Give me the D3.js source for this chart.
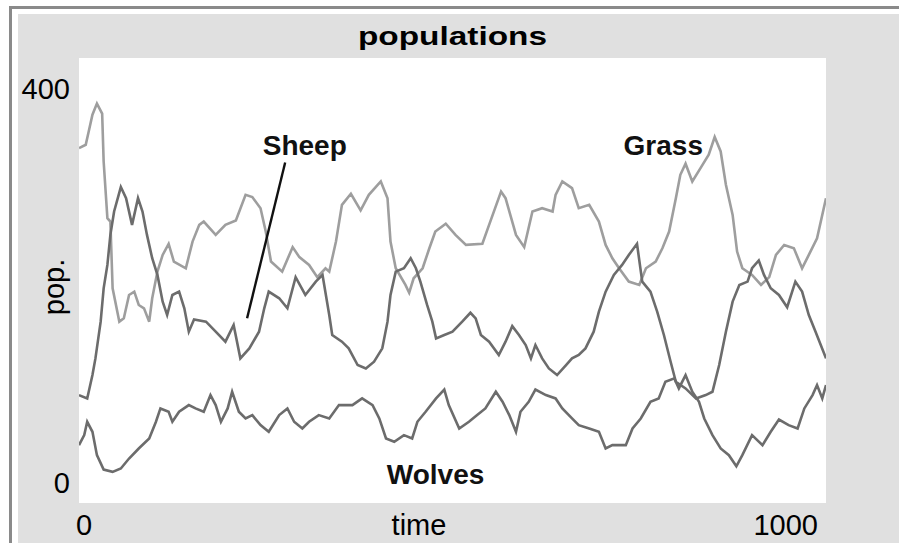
<!DOCTYPE html>
<html>
<head>
<meta charset="utf-8">
<script src="https://cdn.jsdelivr.net/npm/d3@7"></script>
<style>
  html, body { margin: 0; background: #fff; overflow: hidden; }
  svg { display: block; }
  text { font-family: "Liberation Sans", Arial, sans-serif; }
</style>
</head>
<body>
<div class="chart"></div>
<script>
// values (time, pop.)
var grassT = [0,9,13,18,24,31,33,38,42,45,54,60,67,74,80,87,94,98,105,112,120,127,143,152,161,167,183,196,210,223,232,243,250,257,272,286,295,308,319,330,335,344,352,364,377,388,404,413,417,424,437,442,448,460,469,477,491,504,518,540,549,565,571,585,596,607,620,634,638,647,660,669,683,696,705,714,723,736,750,759,772,781,790,799,805,812,821,832,843,851,859,866,875,881,888,901,913,924,933,944,957,968,977,988,1000];
var grassV = [319,322,334,349,359,350,307,256,253,193,163,166,187,190,178,175,163,184,208,223,233,217,211,235,250,253,241,250,254,277,275,265,244,217,208,230,221,214,203,211,208,235,268,278,263,277,289,274,235,211,196,189,202,211,229,244,251,241,232,233,250,280,274,241,230,262,265,262,277,289,283,265,268,253,232,220,211,199,196,211,217,229,244,274,295,305,289,301,313,329,316,286,259,226,211,205,196,203,223,232,229,211,223,238,274];

var sheepT = [0,11,18,22,29,33,38,42,47,56,63,71,79,85,91,98,105,112,118,125,134,141,147,154,170,183,196,207,216,228,241,248,254,268,279,290,303,317,326,335,339,352,361,373,384,395,406,413,417,424,435,444,451,457,466,473,478,489,500,513,524,531,538,549,562,571,580,589,598,605,611,620,629,640,652,660,669,678,689,696,705,716,727,736,747,754,765,774,783,792,799,812,826,839,848,857,866,875,884,895,901,910,917,926,937,948,959,968,977,986,1000];
var sheepV = [97,94,115,130,163,193,214,241,262,284,274,250,274,262,241,220,205,181,169,187,190,175,154,165,163,154,145,160,130,139,154,175,190,184,175,203,187,199,205,169,151,145,139,124,121,127,139,163,187,208,211,220,211,199,178,163,148,151,154,163,171,166,151,145,133,145,159,151,142,130,142,130,121,115,124,130,133,139,154,172,190,205,214,223,233,199,190,172,151,127,109,103,94,97,100,124,154,181,196,199,211,218,205,193,187,176,199,190,169,154,130];

var wolvesT = [0,7,11,18,24,33,45,56,67,80,94,103,109,120,125,134,147,156,167,176,183,190,199,205,214,223,232,243,254,268,279,288,299,308,321,335,348,366,379,393,402,411,422,435,446,453,464,478,489,495,509,522,533,544,558,567,576,585,591,602,611,625,638,647,660,669,683,696,705,714,732,741,752,765,776,785,797,803,812,821,830,837,848,859,870,880,888,901,915,926,937,950,962,971,982,988,995,1000];
var wolvesV = [52,61,73,64,43,30,28,31,40,49,58,73,85,82,73,82,88,85,82,97,88,73,85,100,82,76,79,70,64,79,85,73,67,73,79,76,88,88,94,88,76,58,55,61,58,73,82,94,102,88,67,73,79,85,100,91,79,64,82,91,102,97,94,85,76,70,67,64,49,52,52,67,76,91,94,109,112,103,115,100,91,76,61,49,43,33,43,61,52,64,75,70,67,85,97,106,94,106];

var seriesNames = ["Grass", "Sheep", "Wolves"];
var xTicks = ["0", "1000"];
var yTicks = ["0", "400"];

var svgWidth = 899;
var svgHeight = 543;

var plot = { left: 79, right: 826, top: 58, bottom: 503 };

var grassColor = "rgb(158,158,158)";
var animalColor = "rgb(108,108,108)";
var frameColor = "rgb(138,138,138)";
var panelColor = "rgb(224,224,224)";

var $svg = d3.select(".chart")
    .append("svg")
    .attr("width", svgWidth)
    .attr("height", svgHeight);

// outer frame and grey panel
$svg.append("rect")
    .attr("x", 0).attr("y", 0)
    .attr("width", svgWidth).attr("height", svgHeight)
    .attr("fill", "#fff");
$svg.append("rect")
    .attr("x", 18).attr("y", 14)
    .attr("width", svgWidth - 18).attr("height", svgHeight - 14)
    .attr("fill", panelColor);
$svg.append("line")
    .attr("x1", 9).attr("x2", svgWidth)
    .attr("y1", 7.5).attr("y2", 7.5)
    .attr("stroke", frameColor).attr("stroke-width", 3);
$svg.append("line")
    .attr("x1", 10.5).attr("x2", 10.5)
    .attr("y1", 6).attr("y2", svgHeight)
    .attr("stroke", frameColor).attr("stroke-width", 3);

$svg.append("rect")
    .attr("x", plot.left).attr("y", plot.top)
    .attr("width", plot.right - plot.left)
    .attr("height", plot.bottom - plot.top)
    .attr("fill", "#fff");

var xScale = d3.scaleLinear()
    .domain([+xTicks[0], +xTicks[1]])
    .range([plot.left, plot.right]);

var yScale = d3.scaleLinear()
    .domain([+yTicks[0], +yTicks[1]])
    .range([plot.bottom, plot.top]);

$svg.append("clipPath")
    .attr("id", "plotClip")
    .append("rect")
    .attr("x", plot.left).attr("y", plot.top)
    .attr("width", plot.right - plot.left)
    .attr("height", plot.bottom - plot.top);

var line = d3.line()
    .x(d => xScale(d[0]))
    .y(d => yScale(d[1]));

var series = [
    { name: seriesNames[0], data: grassT.map((t, i) => [t, grassV[i]]), color: grassColor },
    { name: seriesNames[1], data: sheepT.map((t, i) => [t, sheepV[i]]), color: animalColor },
    { name: seriesNames[2], data: wolvesT.map((t, i) => [t, wolvesV[i]]), color: animalColor }
];

var $lines = $svg.append("g").attr("clip-path", "url(#plotClip)");

$lines.selectAll(".pen")
    .data(series)
    .enter()
    .append("path")
    .attr("class", "pen")
    .attr("d", d => line(d.data))
    .attr("fill", "none")
    .attr("stroke", d => d.color)
    .attr("stroke-width", 2.6)
    .attr("stroke-linejoin", "miter");

// pointer from the Sheep label to its line
$svg.append("line")
    .attr("x1", xScale(276)).attr("y1", yScale(306))
    .attr("x2", xScale(225)).attr("y2", yScale(166))
    .attr("stroke", "#111")
    .attr("stroke-width", 2.4);

// series labels
var labelPos = [[729, 313], [246, 313], [412, 17]];
$svg.selectAll(".seriesLabel")
    .data(seriesNames)
    .enter()
    .append("text")
    .attr("class", "seriesLabel")
    .attr("x", (d, i) => xScale(labelPos[i][0]))
    .attr("y", (d, i) => yScale(labelPos[i][1]))
    .attr("font-size", "28px")
    .attr("font-weight", "bold")
    .attr("fill", "#111")
    .text(d => d);

// title
$svg.append("text")
    .attr("x", (plot.left + plot.right) / 2)
    .attr("y", 45)
    .attr("text-anchor", "middle")
    .attr("font-size", "25px")
    .attr("font-weight", "bold")
    .attr("textLength", 189)
    .attr("lengthAdjust", "spacingAndGlyphs")
    .attr("fill", "#000")
    .text("populations");

// axis corner labels
$svg.append("text")
    .attr("x", 70).attr("y", 99)
    .attr("text-anchor", "end")
    .attr("font-size", "29px")
    .text(yTicks[1]);
$svg.append("text")
    .attr("x", 70).attr("y", 493)
    .attr("text-anchor", "end")
    .attr("font-size", "29px")
    .text(yTicks[0]);
$svg.append("text")
    .attr("x", 76).attr("y", 535)
    .attr("font-size", "29px")
    .text(xTicks[0]);
$svg.append("text")
    .attr("x", 818).attr("y", 535)
    .attr("text-anchor", "end")
    .attr("font-size", "29px")
    .text(xTicks[1]);
$svg.append("text")
    .attr("x", 419).attr("y", 535)
    .attr("text-anchor", "middle")
    .attr("font-size", "29px")
    .text("time");
$svg.append("text")
    .attr("transform", "translate(64,287) rotate(-90)")
    .attr("text-anchor", "middle")
    .attr("font-size", "29px")
    .text("pop.");
</script>
</body>
</html>
